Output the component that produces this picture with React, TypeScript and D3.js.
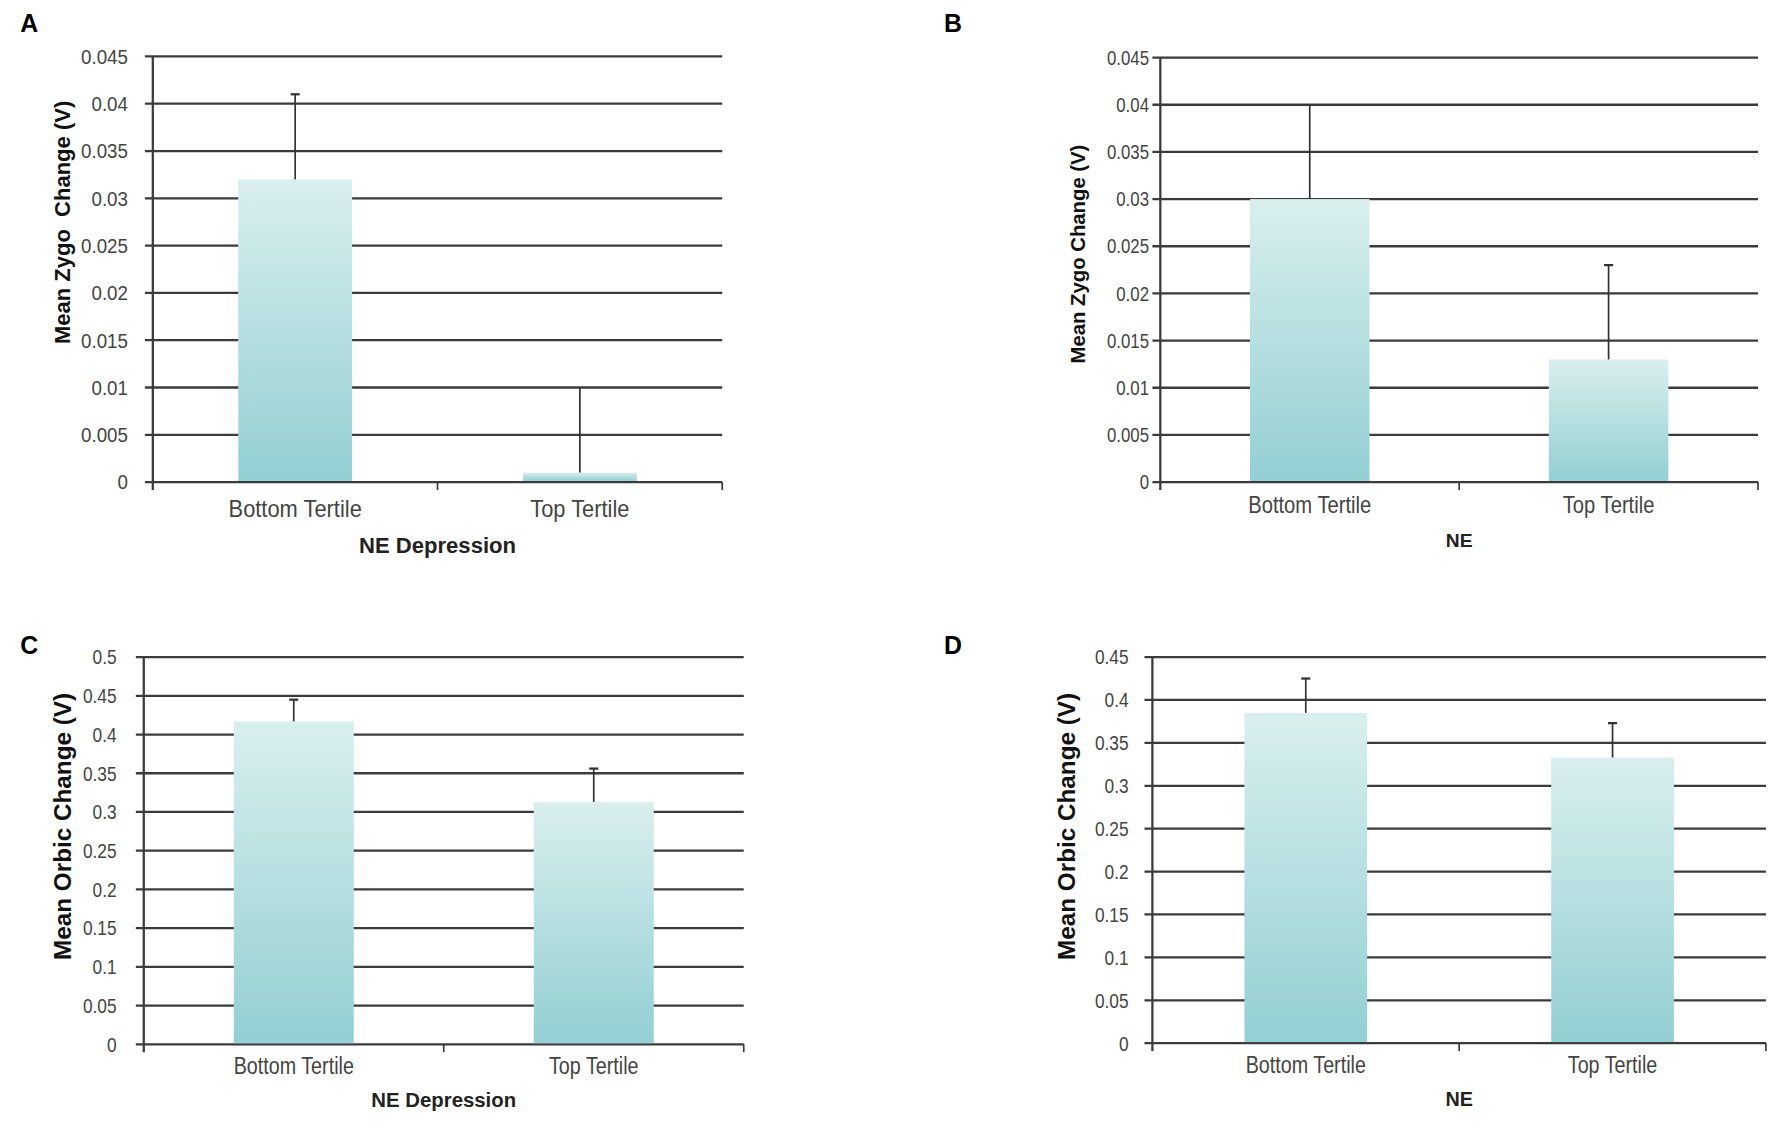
import * as d3 from 'd3';

// values
const categories = ['Bottom Tertile', 'Top Tertile'];

const zygoDepMeans = [0.032, 0.001];
const zygoDepUpper = [0.041, 0.01];
const zygoNeMeans = [0.03, 0.013];
const zygoNeUpper = [0.04, 0.023];
const orbicDepMeans = [0.417, 0.313];
const orbicDepUpper = [0.445, 0.356];
const orbicNeMeans = [0.385, 0.333];
const orbicNeUpper = [0.425, 0.373];

const zygoTicks = ['0', '0.005', '0.01', '0.015', '0.02', '0.025', '0.03', '0.035', '0.04', '0.045'];
const orbicDepTicks = ['0', '0.05', '0.1', '0.15', '0.2', '0.25', '0.3', '0.35', '0.4', '0.45', '0.5'];
const orbicNeTicks = ['0', '0.05', '0.1', '0.15', '0.2', '0.25', '0.3', '0.35', '0.4', '0.45'];

const FONT = 'Liberation Sans, Arial, sans-serif';

type PanelProps = {
  letter: string;
  letterX: number;
  letterY: number;
  means: number[];
  upper: number[];
  caps: boolean[];
  ticks: string[];
  left: number;
  right: number;
  top: number;
  bottom: number;
  yTitle: string;
  yTitleX: number;
  yTitleY: number;
  yTitleSize: number;
  xTitle: string;
  xTitleSize: number;
  tickSize: number;
  tickGap: number;
  catSize: number;
  catY: number;
  xTitleY: number;
  squeeze: number;
  gradId: string;
};

function Panel(p: PanelProps) {
  const tickVals = p.ticks.map(Number);
  const y = d3.scaleLinear([0, d3.max(tickVals) as number], [p.bottom, p.top]);
  const x = d3.scaleBand(categories, [p.left, p.right]).padding(0);
  const bw = x.bandwidth() * 0.4;
  const edges = categories.map(c => (x(c) as number) + x.bandwidth());

  return (
    <g>
      <text x={p.letterX} y={p.letterY} fontSize={22} fontWeight="bold" fontFamily={FONT}>
        {p.letter}
      </text>
      {/* grid */}
      <g stroke="#3b3b3b" strokeWidth={2}>
        {tickVals.map((t, i) => (
          <line key={i} x1={p.left - 7} x2={p.right} y1={y(t)} y2={y(t)} />
        ))}
        <line x1={p.left} x2={p.left} y1={p.top} y2={p.bottom + 7} />
        {edges.map((e, i) => (
          <line key={i} x1={e} x2={e} y1={p.bottom} y2={p.bottom + 7} strokeWidth={1.5} />
        ))}
      </g>
      {/* bars + upper error bars */}
      {categories.map((c, i) => {
        const cx = (x(c) as number) + x.bandwidth() / 2;
        return (
          <g key={c}>
            <rect x={cx - bw / 2} y={y(p.means[i])} width={bw} height={p.bottom - y(p.means[i]) - 1}
              fill={`url(#${p.gradId})`} />
            <line x1={cx} x2={cx} y1={y(p.means[i])} y2={y(p.upper[i])} stroke="#333" strokeWidth={1.5} />
            {p.caps[i] && (
              <line x1={cx - 4} x2={cx + 4} y1={y(p.upper[i])} y2={y(p.upper[i])} stroke="#333" strokeWidth={2} />
            )}
          </g>
        );
      })}
      {/* tick labels */}
      <g fontFamily={FONT} fontSize={p.tickSize} fill="#444" textAnchor="end">
        {p.ticks.map((t, i) => (
          <text key={i} transform={`translate(${p.left - p.tickGap},${y(tickVals[i])}) scale(${p.squeeze},1)`}
            dy="0.36em">{t}</text>
        ))}
      </g>
      <g fontFamily={FONT} fontSize={p.catSize} fill="#444" textAnchor="middle">
        {categories.map(c => (
          <text key={c} transform={`translate(${(x(c) as number) + x.bandwidth() / 2},${p.catY}) scale(${p.squeeze},1)`}
            dy="0.36em">{c}</text>
        ))}
      </g>
      <text x={(p.left + p.right) / 2} y={p.xTitleY} dy="0.36em" textAnchor="middle" fontWeight="bold"
        fontSize={p.xTitleSize} fontFamily={FONT} fill="#222">
        {p.xTitle}
      </text>
      <text transform={`translate(${p.yTitleX},${p.yTitleY}) rotate(-90)`} dy="0.36em" textAnchor="middle"
        fontWeight="bold" fontSize={p.yTitleSize} fontFamily={FONT} fill="#111"
        style={{ whiteSpace: 'pre' }}>
        {p.yTitle}
      </text>
    </g>
  );
}

function App() {
  return (
    <svg width={1775} height={1129} viewBox="0 0 1568 1000" preserveAspectRatio="none"
      style={{ position: 'absolute', left: 0, top: 0, background: '#fff' }}>
      <defs>
        {['g1', 'g2', 'g3', 'g4'].map(id => (
          <linearGradient key={id} id={id} x1="0" y1="0" x2="0" y2="1">
            <stop offset="0%" stopColor="#d9efee" />
            <stop offset="100%" stopColor="#93cfd3" />
          </linearGradient>
        ))}
      </defs>
      <Panel letter="A" letterX={18} letterY={28} means={zygoDepMeans} upper={zygoDepUpper} caps={[true, false]}
        ticks={zygoTicks} left={135} right={638} top={50} bottom={427}
        yTitle="Mean Zygo  Change (V)" yTitleX={55} yTitleY={197} yTitleSize={19.5}
        xTitle="NE Depression" xTitleSize={19.5} tickSize={18} tickGap={22} squeeze={0.92}
        catSize={21} catY={450} xTitleY={483} gradId="g1" />
      <Panel letter="B" letterX={834} letterY={28} means={zygoNeMeans} upper={zygoNeUpper} caps={[false, true]}
        ticks={zygoTicks} left={1025} right={1553} top={51} bottom={427}
        yTitle="Mean Zygo Change (V)" yTitleX={952} yTitleY={225} yTitleSize={18}
        xTitle="NE" xTitleSize={17} tickSize={17.5} tickGap={10} squeeze={0.85}
        catSize={21} catY={447} xTitleY={478} gradId="g2" />
      <Panel letter="C" letterX={18} letterY={579} means={orbicDepMeans} upper={orbicDepUpper} caps={[true, true]}
        ticks={orbicDepTicks} left={127} right={657} top={582} bottom={925}
        yTitle="Mean Orbic Change (V)" yTitleX={55} yTitleY={732} yTitleSize={21.5}
        xTitle="NE Depression" xTitleSize={18} tickSize={18} tickGap={24} squeeze={0.85}
        catSize={20.5} catY={944} xTitleY={974} gradId="g3" />
      <Panel letter="D" letterX={834} letterY={579} means={orbicNeMeans} upper={orbicNeUpper} caps={[true, true]}
        ticks={orbicNeTicks} left={1018} right={1560} top={582} bottom={924}
        yTitle="Mean Orbic Change (V)" yTitleX={942} yTitleY={732} yTitleSize={21.5}
        xTitle="NE" xTitleSize={17.5} tickSize={18} tickGap={21} squeeze={0.85}
        catSize={20.5} catY={943} xTitleY={973} gradId="g4" />
    </svg>
  );
}

export default App;
